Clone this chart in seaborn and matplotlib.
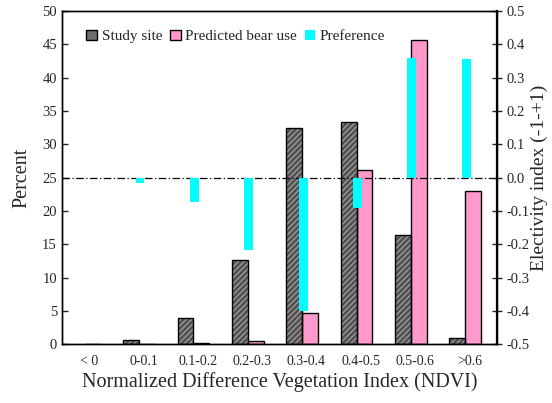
import numpy as np
import matplotlib
matplotlib.use("Agg")
import matplotlib.pyplot as plt
import seaborn as sns
import pandas as pd
from matplotlib.patches import Patch, Rectangle

# data
categories = ["< 0", "0-0.1", "0.1-0.2", "0.2-0.3", "0.3-0.4", "0.4-0.5", "0.5-0.6", ">0.6"]
study_site = [0.0, 0.6, 3.9, 12.6, 32.5, 33.3, 16.4, 0.9]
predicted_use = [0.0, 0.0, 0.15, 0.4, 4.7, 26.2, 45.6, 23.0]
preference = [np.nan, -0.015, -0.072, -0.216, -0.40, -0.09, 0.36, 0.355]
series_names = ["Study site", "Predicted bear use"]

sns.set_style("white")
plt.rcParams["font.family"] = ["Liberation Serif", "DejaVu Serif"]

df = pd.DataFrame({
    "ndvi": categories * 2,
    "percent": study_site + predicted_use,
    "series": [series_names[0]] * len(categories) + [series_names[1]] * len(categories),
})
pref_df = pd.DataFrame({"ndvi": categories, "pref": preference})

fig = plt.figure(figsize=(5.52, 4.03), dpi=100)
ax = fig.add_axes([0.112, 0.146, 0.788, 0.827])

sns.barplot(data=df, x="ndvi", y="percent", hue="series", order=categories,
            hue_order=series_names, palette=["#505050", "#ff99cc"], width=0.58,
            saturation=1, ax=ax, legend=False, errorbar=None)

# shift bars a little left, hatch the study-site bars, add black outlines
n = len(categories)
for i, p in enumerate(ax.patches[:2 * n]):
    p.set_x(p.get_x() - 0.08)
    if i < n:
        p.set_hatch("//////")
        p.set_edgecolor("#9a9a9a")
        p.set_linewidth(0)
    else:
        p.set_edgecolor("black")
        p.set_linewidth(1.0)
    if i < n and p.get_height() > 0:
        ax.add_patch(Rectangle(p.get_xy(), p.get_width(), p.get_height(),
                               fill=False, edgecolor="black", linewidth=1.0, zorder=3))

ax2 = ax.twinx()
sns.barplot(data=pref_df, x="ndvi", y="pref", order=categories, color="#00ffff",
            saturation=1, width=0.165, ax=ax2, errorbar=None)
for p in ax2.patches:
    p.set_x(p.get_x() - 0.062)
    p.set_linewidth(0)
ax2.axhline(0, color="black", linewidth=0.9, linestyle=(0, (6, 2, 1, 2)), zorder=0)

ax.set_xlim(-0.5, 7.5)
ax.set_ylim(0, 50)
ax2.set_ylim(-0.5, 0.5)

ax.set_yticks(np.arange(0, 51, 5))
ax2.set_yticks(np.round(np.arange(-0.5, 0.51, 0.1), 1))
ax2.set_yticklabels(["%.1f" % v if abs(v) > 1e-9 else "0.0" for v in np.arange(-0.5, 0.51, 0.1)])

ax.set_xticks(range(n))
ax.set_xticklabels(categories)
ax.set_xticks(np.arange(0.5, n - 0.5, 1), minor=True)
ax.tick_params(axis="x", which="major", length=0, pad=8, labelsize=10)
ax.tick_params(axis="x", which="minor", direction="in", length=4, width=1)
ax.tick_params(axis="y", direction="in", length=4, width=1, labelsize=10.5, left=True)
ax2.tick_params(axis="y", direction="inout", length=7, width=1, labelsize=10.5, right=True)
ax2.tick_params(axis="x", length=0)

ax.set_xlabel("Normalized Difference Vegetation Index (NDVI)", fontsize=14.5, labelpad=3)
ax.set_ylabel("Percent", fontsize=14.5, labelpad=8)
ax2.set_ylabel("Electivity index (-1-+1)", fontsize=14, labelpad=1)

for a in (ax, ax2):
    for s in a.spines.values():
        s.set_visible(True)
        s.set_color("black")
        s.set_linewidth(1.0)
ax2.spines["right"].set_linewidth(1.6)

handles = [Patch(facecolor="#6e6e6e", edgecolor="black", linewidth=1),
           Patch(facecolor="#ff99cc", edgecolor="black", linewidth=1),
           Patch(facecolor="#00ffff", edgecolor="none")]
ax2.legend(handles, ["Study site", "Predicted bear use", "Preference"], loc="upper left",
           bbox_to_anchor=(0.025, 0.985), ncol=3, frameon=False, fontsize=11,
           handlelength=0.7, handleheight=0.7, handletextpad=0.3, columnspacing=0.5)

fig.savefig("out.png", dpi=100)
